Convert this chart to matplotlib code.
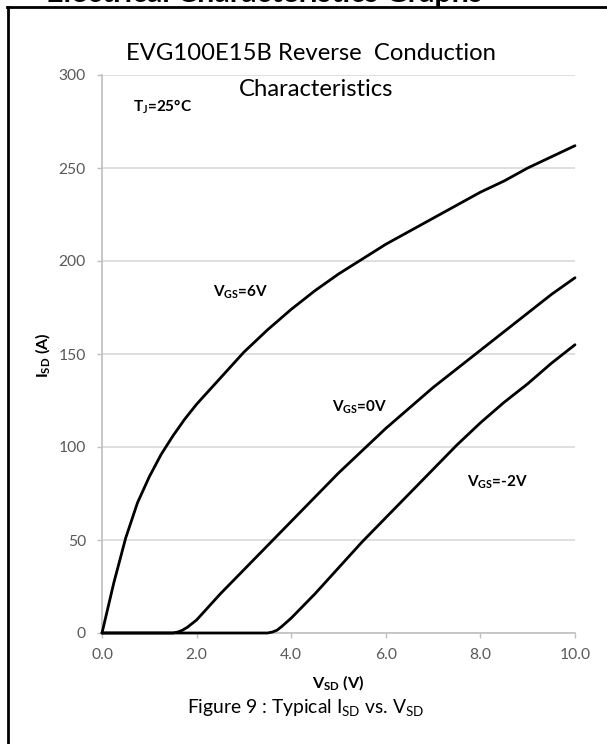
import matplotlib
matplotlib.use('Agg')
import matplotlib.pyplot as plt
from matplotlib.lines import Line2D

plt.rcParams['font.family'] = ['Lato', 'DejaVu Sans']
plt.rcParams['mathtext.default'] = 'regular'

# ---------------- data ----------------
vsd_6v = [0, 0.25, 0.5, 0.75, 1.0, 1.25, 1.5, 1.75, 2.0, 2.5, 3.0, 3.5, 4.0, 4.5,
          5.0, 5.5, 6.0, 6.5, 7.0, 7.5, 8.0, 8.5, 9.0, 9.5, 10.0]
isd_6v = [0, 27, 51, 70, 84, 96, 106, 115, 123, 137, 151, 163, 174, 184,
          193, 201, 209, 216, 223, 230, 237, 243, 250, 256, 262]

vsd_0v = [0, 0.5, 1.0, 1.5, 1.6, 1.7, 1.8, 2.0, 2.5, 3.0, 3.5, 4.0, 4.5, 5.0,
          5.5, 6.0, 6.5, 7.0, 7.5, 8.0, 8.5, 9.0, 9.5, 10.0]
isd_0v = [0, 0, 0, 0, 0.5, 1.5, 3, 7, 21, 34, 47, 60, 73, 86,
          98, 110, 121, 132, 142, 152, 162, 172, 182, 191]

vsd_m2v = [0, 1, 2, 3, 3.5, 3.6, 3.7, 3.8, 4.0, 4.5, 5.0, 5.5, 6.0, 6.5,
           7.0, 7.5, 8.0, 8.5, 9.0, 9.5, 10.0]
isd_m2v = [0, 0, 0, 0, 0, 0.5, 1.5, 3.5, 8, 21, 35, 49, 62, 75,
           88, 101, 113, 124, 134, 145, 155]

x_ticks = [0, 2, 4, 6, 8, 10]
x_tick_labels = ['0.0', '2.0', '4.0', '6.0', '8.0', '10.0']
y_ticks = [0, 50, 100, 150, 200, 250, 300]
y_tick_labels = ['0', '50', '100', '150', '200', '250', '300']

header = 'Electrical Characteristics Graphs'
title1 = 'EVG100E15B Reverse  Conduction'
title2 = 'Characteristics'
caption = 'Figure 9 : Typical I$_{SD}$ vs. V$_{SD}$'
xlabel = 'V$_{SD}$ (V)'
ylabel = 'I$_{SD}$ (A)'
ann_tj = 'T$_{J}$=25°C'
ann_6v = 'V$_{GS}$=6V'
ann_0v = 'V$_{GS}$=0V'
ann_m2v = 'V$_{GS}$=-2V'

# ---------------- layout ----------------
W, H, DPI = 607, 744, 100
fig = plt.figure(figsize=(W / DPI, H / DPI), dpi=DPI)
fig.patch.set_facecolor('white')
renderer = fig.canvas.get_renderer()

def fx(px):
    return px / W

def fy(py):
    return 1 - py / H

def fit(t, target, dim='w'):
    bb = t.get_window_extent(renderer)
    cur = bb.width if dim == 'w' else bb.height
    t.set_fontsize(t.get_fontsize() * target / cur)
    return t

L, R, T, B = 102, 575, 75, 633
ax = fig.add_axes([fx(L), fy(B), (R - L) / W, (B - T) / H])

grid_c = '#d9d9d9'
axis_c = '#bfbfbf'
ax.set_xlim(0, 10)
ax.set_ylim(0, 300)
ax.set_yticks(y_ticks)
ax.set_yticklabels(y_tick_labels)
ax.set_xticks(x_ticks)
ax.set_xticklabels(x_tick_labels)
ax.yaxis.grid(True, color=grid_c, lw=1.2)
ax.set_axisbelow(True)
for s in ['top', 'right']:
    ax.spines[s].set_visible(False)
for s in ['left', 'bottom']:
    ax.spines[s].set_color(axis_c)
    ax.spines[s].set_linewidth(1.2)

tmp = fig.text(0, 0, '300', fontsize=10)
fit(tmp, 27)
tsize = tmp.get_fontsize()
tmp.remove()
ax.tick_params(axis='both', direction='out', length=3.6, width=1.0, color=axis_c,
               labelsize=tsize, labelcolor='#595959')
ax.tick_params(axis='y', pad=8)
ax.tick_params(axis='x', pad=7)

for xs, ys in [(vsd_6v, isd_6v), (vsd_0v, isd_0v), (vsd_m2v, isd_m2v)]:
    ax.plot(xs, ys, color='black', lw=2.0, clip_on=False,
            solid_joinstyle='round', solid_capstyle='round', zorder=5)

# ---------------- texts ----------------
t1 = fig.text(fx(311), fy(54), title1, ha='center', va='center', color='black')
fit(t1, 370)
fig.text(fx(316), fy(89), title2, ha='center', va='center', color='black',
         fontsize=t1.get_fontsize())

ta = fig.text(fx(467), fy(482), ann_m2v, ha='left', va='center', fontweight='bold')
fit(ta, 61)
asz = ta.get_fontsize()
fig.text(fx(133), fy(107), ann_tj, ha='left', va='center', fontweight='bold', fontsize=asz)
fig.text(fx(213), fy(292), ann_6v, ha='left', va='center', fontweight='bold', fontsize=asz)
fig.text(fx(332), fy(407), ann_0v, ha='left', va='center', fontweight='bold', fontsize=asz)

ty = fig.text(fx(43), fy(355), ylabel, ha='center', va='center', rotation=90,
              fontweight='bold')
fit(ty, 46, dim='h')
fig.text(fx(338), fy(683), xlabel, ha='center', va='center', fontweight='bold',
         fontsize=ty.get_fontsize())

tc = fig.text(fx(306), fy(713), caption, ha='center', va='baseline', color='black')
fit(tc, 238)

th = fig.text(fx(46), fy(2.0), header, ha='left', va='baseline', fontweight='bold')
fit(th, 438)

fig.add_artist(Line2D([fx(8), fx(8)], [0, fy(7)], transform=fig.transFigure,
                      color='black', lw=2.0))
fig.add_artist(Line2D([fx(7), 1], [fy(7), fy(7)], transform=fig.transFigure,
                      color='black', lw=2.0))

fig.savefig('out.png', dpi=DPI, facecolor='white')
